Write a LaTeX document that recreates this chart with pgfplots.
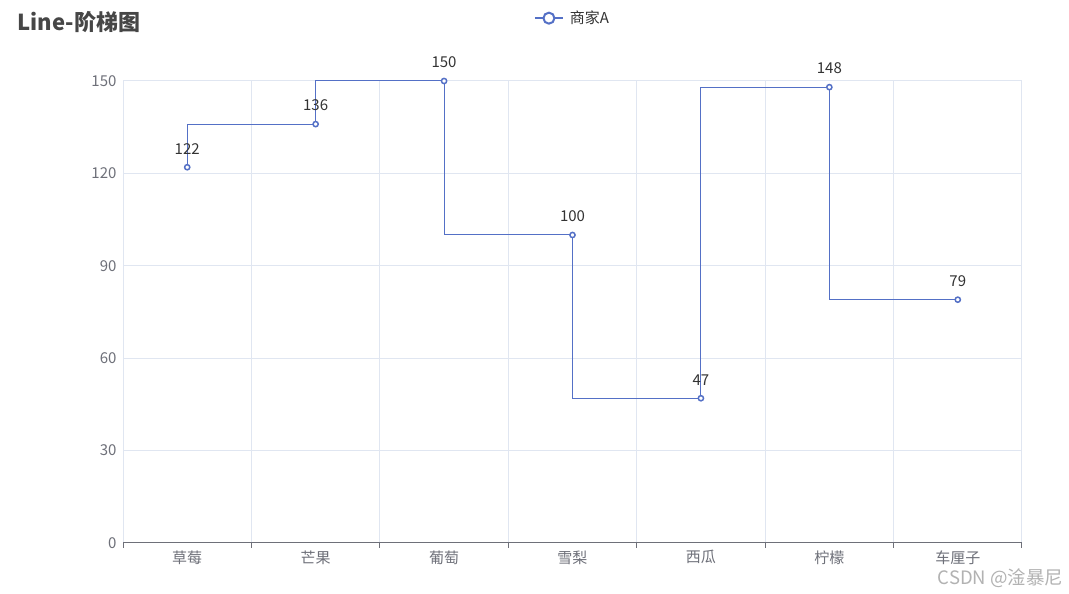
\documentclass[border=0pt]{standalone}
\usepackage{fontspec}
\setmainfont{Noto Sans CJK SC}
\usepackage{pgfplots}
\pgfplotsset{compat=1.18}

\definecolor{serieblue}{HTML}{5470C6}
\definecolor{gridgrey}{HTML}{E0E6F1}
\definecolor{axisgrey}{HTML}{6E7079}
\definecolor{labelgrey}{HTML}{333333}
\definecolor{titlegrey}{HTML}{464646}

\begin{document}
\begin{tikzpicture}
\path[use as bounding box, fill=white] (0,0) rectangle (1069pt,594pt);

\begin{axis}[
    at={(123pt,51pt)}, anchor=south west,
    scale only axis,
    width=899pt, height=462pt,
    xmin=-0.5, xmax=6.5,
    ymin=0, ymax=150,
    xtick={0,1,2,3,4,5,6},
    xticklabels={草莓,芒果,葡萄,雪梨,西瓜,柠檬,车厘子},
    minor xtick={-0.5,0.5,1.5,2.5,3.5,4.5,5.5,6.5},
    ytick={0,30,60,90,120,150},
    tick pos=left,
    major tick length=0pt,
    minor tick length=5pt,
    tick align=outside,
    minor tick style={axisgrey, line width=1pt},
    xminorgrids=true,
    ymajorgrids=true,
    minor grid style={gridgrey, line width=1pt},
    major grid style={gridgrey, line width=1pt},
    axis line style={draw=none},
    tick label style={font=\fontsize{15}{18}\selectfont, text=axisgrey},
    xticklabel style={yshift=-4pt},
    yticklabel style={xshift=-3pt},
    /pgf/number format/assume math mode=true,
    legend style={at={(0.5,1.136)}, anchor=center, draw=none, fill=none,
        font=\fontsize{15}{18}\selectfont, text=labelgrey,
        /tikz/every odd column/.append style={column sep=4pt}},
    legend image code/.code={
        \draw[serieblue, line width=2pt] (0pt,0pt) -- (28pt,0pt);
        \draw[serieblue, line width=2pt, fill=white] (14pt,0pt) circle (5.5pt);
    },
    clip=false,
]
\draw[axisgrey, line width=1pt] (axis cs:-0.5,0) -- (axis cs:6.5,0);
\addplot[
    const plot mark right,
    color=serieblue,
    line width=1pt,
    mark=*,
    mark size=2.6pt,
    mark options={fill=white, line width=1.5pt},
    nodes near coords,
    every node near coord/.append style={font=\fontsize{15}{18}\selectfont,
        text=labelgrey, yshift=9pt},
    ]
    coordinates {(0,122)(1,136)(2,150)(3,100)(4,47)(5,148)(6,79)};
\legend{商家A}
\end{axis}

\node[anchor=west, font=\fontsize{22}{26}\selectfont\bfseries, text=titlegrey]
    at (14pt,572pt) {Line-阶梯图};
\node[anchor=east, font=\fontsize{18.5}{21}\selectfont, text=black!30]
    at (1067pt,16pt) {CSDN @淦暴尼};
\end{tikzpicture}
\end{document}
